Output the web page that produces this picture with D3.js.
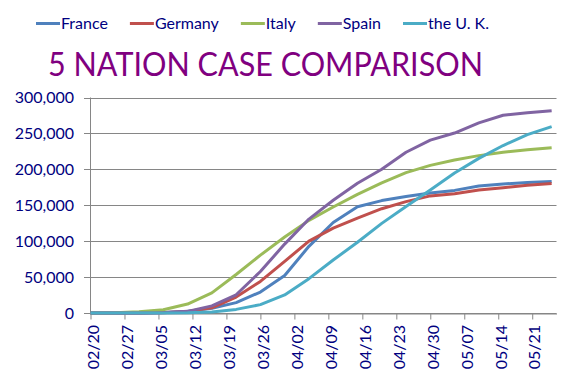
<!DOCTYPE html>
<head>
    <meta charset="utf-8">
    <script src="https://d3js.org/d3.v7.min.js"></script>
    <style>
        body { margin:0; background:#fff; }
        text { font-family: Lato, "Open Sans", sans-serif; }
    </style>
</head>
<body>
    <svg id="chart" width="580" height="389"></svg>

    <script>
        // Data: cumulative cases every 5 days from 02/20/2020
        var dates = ["2020-02-20","2020-02-25","2020-03-01","2020-03-06","2020-03-11","2020-03-16","2020-03-21",
                     "2020-03-26","2020-03-31","2020-04-05","2020-04-10","2020-04-15","2020-04-20","2020-04-25",
                     "2020-04-30","2020-05-05","2020-05-10","2020-05-15","2020-05-20","2020-05-25"];
        var names = ["France","Germany","Italy","Spain","the U. K."];
        var france  = [12,14,130,653,2284,6633,14459,29155,52128,92839,125931,147863,156480,162100,167178,170694,176782,179630,181700,182942];
        var germany = [16,18,130,670,1908,7272,22213,43938,71808,100123,118181,132210,145184,154999,163009,166152,171324,174355,177778,180328];
        var italy   = [3,322,1694,4636,12462,27980,53578,80539,105792,128948,147577,165155,181228,195351,205463,213013,219070,223885,227364,230158];
        var spain   = [2,2,84,400,2277,9942,25374,57786,95923,130759,157022,180659,200210,223759,240660,250561,264663,275215,278803,281600];
        var uk      = [9,13,36,164,459,1543,5018,11658,25150,47806,73758,98476,124743,148377,171253,194990,215260,233151,248293,259559];
        var tickLabels = ["02/20","02/27","03/05","03/12","03/19","03/26","04/02","04/09","04/16","04/23","04/30","05/07","05/14","05/21"];
        var yTicks = [0,50000,100000,150000,200000,250000,300000];

        var colors = ["#4F81BD","#C0504D","#9BBB59","#8064A2","#4BACC6"];
        var series = [france, germany, italy, spain, uk];
        var navy = "#000080";

        var svg = d3.select("#chart");
        var parseDate = d3.timeParse("%Y-%m-%d");
        var parseTick = function(s) { return parseDate("2020-" + s.replace("/", "-")); };

        var x = d3.scaleTime()
            .domain([parseDate("2020-02-20"), parseDate("2020-05-26")])
            .range([90.5, 556.5]);
        var y = d3.scaleLinear().domain([0, 300000]).range([313, 97.5]);

        // Gridlines with left tick marks
        svg.append("g").selectAll("line")
            .data(yTicks).enter().append("line")
            .attr("x1", 84).attr("x2", 556.5)
            .attr("y1", function(d) { return Math.round(y(d)) + 0.5; })
            .attr("y2", function(d) { return Math.round(y(d)) + 0.5; })
            .attr("stroke", "#868686").attr("stroke-width", 1);

        // Y axis line
        svg.append("line")
            .attr("x1", 90.5).attr("x2", 90.5).attr("y1", y(300000)).attr("y2", 313.5)
            .attr("stroke", "#868686");

        // Y labels
        svg.append("g").selectAll("text")
            .data(yTicks).enter().append("text")
            .attr("x", 74).attr("y", function(d) { return y(d); })
            .attr("dy", "0.36em")
            .attr("text-anchor", "end")
            .attr("font-size", "16px")
            .attr("fill", navy)
            .text(d3.format(","));

        // X axis
        var xAxis = d3.axisBottom(x)
            .tickValues(tickLabels.map(parseTick))
            .tickSize(6).tickSizeOuter(0)
            .tickFormat("");
        var gx = svg.append("g").attr("transform", "translate(0,313.5)").call(xAxis);
        gx.select(".domain").attr("stroke", "#868686");
        gx.selectAll(".tick line").attr("stroke", "#868686");

        svg.append("g").selectAll("text")
            .data(tickLabels).enter().append("text")
            .attr("transform", function(d) { return "translate(" + (x(parseTick(d)) + 2.5) + ",325) rotate(-90)"; })
            .attr("dy", "0.36em")
            .attr("text-anchor", "end")
            .attr("font-size", "16px")
            .attr("fill", navy)
            .text(function(d) { return d; });

        // Lines
        var line = d3.line()
            .x(function(d, i) { return x(parseDate(dates[i])); })
            .y(function(d) { return y(d); });

        svg.append("g").selectAll("path")
            .data(series).enter().append("path")
            .attr("d", line)
            .attr("fill", "none")
            .attr("stroke", function(d, i) { return colors[i]; })
            .attr("stroke-width", 3)
            .attr("stroke-linejoin", "round");

        // Legend
        var lx = 36;
        names.forEach(function(n, i) {
            svg.append("line")
                .attr("x1", lx).attr("x2", lx + 24).attr("y1", 23.5).attr("y2", 23.5)
                .attr("stroke", colors[i]).attr("stroke-width", 3);
            var t = svg.append("text")
                .attr("x", lx + 25).attr("y", 29)
                .attr("font-size", "16px")
                .attr("fill", navy)
                .text(n);
            lx += 25 + t.node().getComputedTextLength() + 22;
        });

        // Title
        svg.append("text")
            .attr("x", 48).attr("y", 76)
            .attr("font-size", "32px")
            .attr("fill", "#800080")
            .attr("textLength", 435)
            .attr("lengthAdjust", "spacingAndGlyphs")
            .text("5 NATION CASE COMPARISON");
    </script>
</body>
